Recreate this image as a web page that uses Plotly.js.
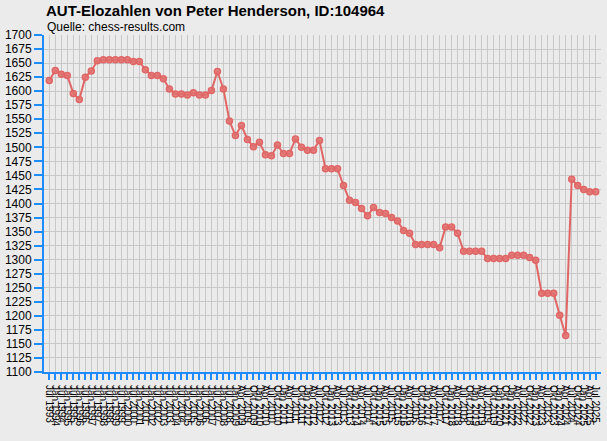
<!DOCTYPE html>
<html>
<head>
<meta charset="utf-8">
<script src="https://cdn.plot.ly/plotly-3.0.1.min.js"></script>
<style>
  html, body { margin: 0; padding: 0; background: #ebebeb; }
  #chart { width: 607px; height: 441px; }
</style>
</head>
<body>
<div id="chart"></div>
<script>
// rating list dates (semi-annual first, quarterly later)
const listDates = [
  'Jul 1993', 'Jan 1994', 'Jul 1994', 'Jan 1995', 'Jul 1995', 'Jan 1996', 'Jul 1996', 'Jan 1997',
  'Jul 1997', 'Jan 1998', 'Jul 1998', 'Jan 1999', 'Jul 1999', 'Jan 2000', 'Jul 2000', 'Jan 2001',
  'Jul 2001', 'Jan 2002', 'Jul 2002', 'Jan 2003', 'Jul 2003', 'Jan 2004', 'Jul 2004', 'Jan 2005',
  'Jul 2005', 'Jan 2006', 'Jul 2006', 'Jan 2007', 'Jul 2007', 'Jan 2008', 'Jul 2008', 'Jan 2009',
  'Apr 2009', 'Jul 2009', 'Okt 2009', 'Jan 2010', 'Apr 2010', 'Jul 2010', 'Okt 2010', 'Jan 2011',
  'Apr 2011', 'Jul 2011', 'Okt 2011', 'Jan 2012', 'Apr 2012', 'Jul 2012', 'Okt 2012', 'Jan 2013',
  'Apr 2013', 'Jul 2013', 'Okt 2013', 'Jan 2014', 'Apr 2014', 'Jul 2014', 'Okt 2014', 'Jan 2015',
  'Apr 2015', 'Jul 2015', 'Okt 2015', 'Jan 2016', 'Apr 2016', 'Jul 2016', 'Okt 2016', 'Jan 2017',
  'Apr 2017', 'Jul 2017', 'Okt 2017', 'Jan 2018', 'Apr 2018', 'Jul 2018', 'Okt 2018', 'Jan 2019',
  'Apr 2019', 'Jul 2019', 'Okt 2019', 'Jan 2020', 'Okt 2021', 'Jan 2022', 'Apr 2022', 'Jul 2022',
  'Okt 2022', 'Jan 2023', 'Apr 2023', 'Jul 2023', 'Okt 2023', 'Jan 2024', 'Apr 2024', 'Jul 2024',
  'Okt 2024', 'Jan 2025', 'Apr 2025', 'Jul 2025'
];

const eloValues = [
  1619, 1637, 1630, 1628, 1596, 1585, 1625, 1636, 1654, 1656, 1656, 1656, 1656, 1656, 1653, 1653,
  1638, 1628, 1628, 1622, 1604, 1595, 1595, 1593, 1597, 1593, 1593, 1601, 1635, 1604, 1547, 1521,
  1539, 1514, 1501, 1509, 1487, 1485, 1504, 1489, 1489, 1515, 1500, 1495, 1495, 1512, 1462, 1462,
  1462, 1432, 1406, 1402, 1391, 1378, 1393, 1384, 1382, 1375, 1369, 1352, 1347, 1327, 1327, 1327,
  1327, 1321, 1358, 1358, 1347, 1315, 1315, 1315, 1315, 1302, 1302, 1302, 1302, 1308, 1308, 1308,
  1304, 1299, 1240, 1240, 1240, 1201, 1165, 1443, 1432, 1425, 1421, 1421
];

const chartTitle = 'AUT-Elozahlen von Peter Henderson, ID:104964';
const sourceNote = 'Quelle: chess-results.com';

const BLUE = '#1e8cff';
const LINE = '#e06666';
const FONT = 'Liberation Sans, Arial, sans-serif';

const trace = {
  type: 'scatter',
  mode: 'lines+markers',
  x: listDates,
  y: eloValues,
  line: { color: LINE, width: 2 },
  marker: { symbol: 'circle', size: 6, color: 'rgba(226,112,112,0.85)', line: { color: LINE, width: 1.5 } },
  hoverinfo: 'x+y'
};

const layout = {
  width: 607,
  height: 441,
  paper_bgcolor: '#ebebeb',
  plot_bgcolor: '#ebebeb',
  font: { family: FONT, color: '#000' },
  margin: { l: 44, r: 6, t: 35, b: 69, pad: 0 },
  showlegend: false,
  title: {
    text: '<b>' + chartTitle + '</b>',
    font: { family: FONT, size: 15, color: '#000' },
    x: 46 / 607, xanchor: 'left',
    y: 1 - 11 / 441, yanchor: 'middle'
  },
  annotations: [{
    text: sourceNote,
    xref: 'paper', yref: 'paper',
    x: 0, xanchor: 'left', xshift: 1,
    y: (337 + 7.5) / 337, yanchor: 'middle',
    showarrow: false,
    font: { family: FONT, size: 12, color: '#000' }
  }],
  xaxis: {
    type: 'category',
    range: [-0.88, listDates.length - 0.12],
    tickmode: 'linear', tick0: 0, dtick: 1,
    tickangle: 90,
    tickfont: { family: FONT, size: 10, color: '#000' },
    ticks: 'outside', ticklen: 6, tickwidth: 2, tickcolor: BLUE,
    ticklabelstandoff: 3,
    showline: true, linecolor: BLUE, linewidth: 2,
    showgrid: true, gridcolor: '#c8c8c8', gridwidth: 1,
    zeroline: false, fixedrange: true
  },
  yaxis: {
    range: [1100, 1700],
    tickmode: 'linear', tick0: 1100, dtick: 25,
    tickfont: { family: FONT, size: 12, color: '#000' },
    ticks: 'outside', ticklen: 8, tickwidth: 2, tickcolor: BLUE,
    showline: true, linecolor: BLUE, linewidth: 2,
    showgrid: true, gridcolor: '#c8c8c8', gridwidth: 1,
    zeroline: false, fixedrange: true
  }
};

Plotly.newPlot('chart', [trace], layout, { staticPlot: true, displayModeBar: false });
</script>
</body>
</html>
